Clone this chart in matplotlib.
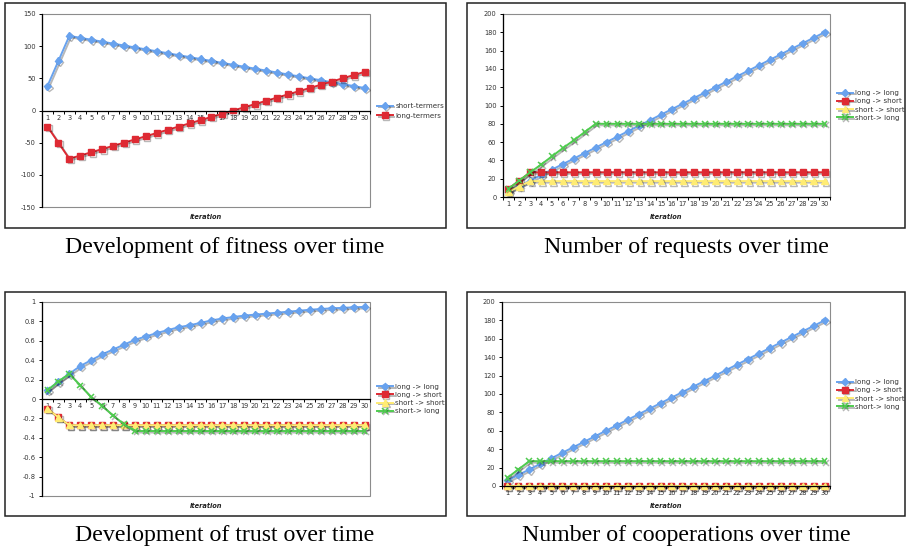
import matplotlib
matplotlib.use("Agg")
import matplotlib.pyplot as plt
import matplotlib.patheffects as pe
from matplotlib.patches import Rectangle
import numpy as np

# ---- data -------------------------------------------------------------
iterations = list(range(1, 31))

# fitness
fitness_short = [38, 77, 116, 113, 110, 107, 104, 101, 98, 95, 92, 89, 86, 83, 80,
                 77, 74, 71, 68, 65, 62, 59, 56, 53, 50, 47, 44, 41, 38, 35]
fitness_long = [-25, -50, -75, -70, -65, -60, -55, -50, -45, -40, -35, -30, -25, -20, -15,
                -10, -5, 0, 5, 10, 15, 20, 25, 30, 35, 40, 45, 50, 55, 60]

# requests
req_long_long = [6, 12, 18, 24, 30, 36, 42, 48, 54, 60, 66, 72, 78, 84, 90,
                 96, 102, 108, 114, 120, 126, 132, 138, 144, 150, 156, 162, 168, 174, 180]
req_long_short = [9, 18, 27] + [27] * 27
req_short_short = [5.8, 11.6, 17.4] + [17.4] * 27
req_short_long = [9, 18, 27, 35.5, 44.5, 53.5, 62, 71, 80] + [80] * 21

# trust
trust_long_long = [0.09, 0.18, 0.26, 0.34, 0.40, 0.46, 0.51, 0.56, 0.61, 0.645,
                   0.68, 0.71, 0.74, 0.76, 0.785, 0.81, 0.83, 0.845, 0.86, 0.87,
                   0.88, 0.89, 0.90, 0.91, 0.92, 0.928, 0.935, 0.94, 0.945, 0.95]
trust_long_short = [-0.10, -0.19, -0.27] + [-0.27] * 27
trust_short_short = [-0.10, -0.19, -0.27] + [-0.27] * 27
trust_short_long = [0.09, 0.18, 0.26, 0.14, 0.02, -0.07, -0.17, -0.26, -0.33] + [-0.33] * 21

# cooperations
coop_long_long = [6, 12, 18, 24, 30, 36, 42, 48, 54, 60, 66, 72, 78, 84, 90,
                  96, 102, 108, 114, 120, 126, 132, 138, 144, 150, 156, 162, 168, 174, 180]
coop_long_short = [0] * 30
coop_short_short = [0] * 30
coop_short_long = [9, 18, 27] + [27] * 27

pair_labels = ["long -> long", "long -> short", "short -> short", "short-> long"]
fitness_labels = ["short-termers", "long-termers"]

fitness_ticks = [150, 100, 50, 0, -50, -100, -150]
count_ticks = [0, 20, 40, 60, 80, 100, 120, 140, 160, 180, 200]
trust_ticks = [1, 0.8, 0.6, 0.4, 0.2, 0, -0.2, -0.4, -0.6, -0.8, -1]
trust_tick_labels = ["1", "0.8", "0.6", "0.4", "0.2", "0", "-0.2", "-0.4", "-0.6", "-0.8", "-1"]

captions = ["Development of fitness over time", "Number of requests over time",
            "Development of trust over time", "Number of cooperations over time"]

# ---- styling ----------------------------------------------------------
W, H = 906, 550
BLUE = "#68A2EE"
RED = "#DE2A33"
YELLOW = "#FFEC73"
GREEN = "#4FCB4F"

STYLES = [
    dict(color=BLUE, marker="D", markersize=3.6),
    dict(color=RED, marker="s", markersize=4.3),
    dict(color=YELLOW, marker="^", markersize=4.6),
    dict(color=GREEN, marker="x", markersize=4.2, markeredgewidth=1.1),
]
SHADOW = [pe.SimpleLineShadow(offset=(1.1, -1.1), shadow_color="black", alpha=0.28),
          pe.Normal()]

plt.rcParams["font.family"] = "DejaVu Sans"
TICK_FS = 4.8
LEG_FS = 5.1

fig = plt.figure(figsize=(W / 100, H / 100), dpi=100)
fig.patch.set_facecolor("white")


def px_axes(x0, y0, x1, y1):
    return fig.add_axes([x0 / W, 1 - y1 / H, (x1 - x0) / W, (y1 - y0) / H])


def fig_xy(x, y):
    return x / W, 1 - y / H


def frame(x0, y0, x1, y1):
    fig.patches.append(Rectangle((x0 / W, 1 - y1 / H), (x1 - x0) / W, (y1 - y0) / H,
                                 transform=fig.transFigure, fill=False,
                                 edgecolor="#222222", linewidth=1.1))


def setup(ax, ylim, yticks, yticklabels, zero_axis, xlabel):
    ax.set_xlim(0.5, 30.5)
    ax.set_ylim(*ylim)
    for s in ["top", "right"]:
        ax.spines[s].set_visible(False)
    ax.spines["left"].set_color("black")
    ax.spines["left"].set_linewidth(0.9)
    ax.spines["bottom"].set_color("black")
    ax.spines["bottom"].set_linewidth(0.9)
    if zero_axis:
        ax.spines["bottom"].set_position(("data", 0))
    # grey plot-area border
    ax.add_patch(Rectangle((0, 0), 1, 1, transform=ax.transAxes, fill=False,
                           edgecolor="#8c8c8c", linewidth=0.8, zorder=0.5, clip_on=False))
    ax.set_yticks(yticks)
    ax.set_yticklabels(yticklabels)
    ax.set_xticks(iterations)
    ax.set_xticklabels([str(i) for i in iterations])
    ax.set_xticks(np.arange(0.5, 31, 1.0), minor=True)
    ax.tick_params(axis="x", which="major", length=0, pad=3.0, labelsize=TICK_FS,
                   labelcolor="#333333")
    ax.tick_params(axis="x", which="minor", length=2.2, width=0.7, direction="out")
    ax.tick_params(axis="y", length=2.2, width=0.7, direction="out", pad=2.5,
                   labelsize=TICK_FS, labelcolor="#333333")
    ax.text(0.5, xlabel[1], xlabel[0], transform=ax.transAxes, ha="center", va="center",
            fontsize=4.8, fontweight="bold", fontstyle="italic", color="#222222")


def plot_series(ax, series, labels):
    for vals, st, lab in zip(series, STYLES, labels):
        ax.plot(iterations, vals, linewidth=1.4, label=lab, path_effects=SHADOW,
                clip_on=False, **st)


def legend(ax, x, y, spacing):
    lg = ax.legend(loc="center left", bbox_to_anchor=fig_xy(x, y),
                   bbox_transform=fig.transFigure, frameon=False, fontsize=LEG_FS,
                   handlelength=2.2, handletextpad=0.4, labelspacing=spacing,
                   borderpad=0, borderaxespad=0)
    for t in lg.get_texts():
        t.set_color("#333333")


# ---- frames -----------------------------------------------------------
frame(5, 3, 446, 228)
frame(467, 3, 904.5, 228)
frame(5, 292, 446, 516)
frame(467, 292, 904.5, 516)

# ---- fitness ----------------------------------------------------------
ax1 = px_axes(42, 14, 370, 207)
setup(ax1, (-150, 150), fitness_ticks, [str(t) for t in fitness_ticks], True,
      ("iteration", -0.053))
for vals, st, lab in zip([fitness_short, fitness_long], STYLES[:2], fitness_labels):
    ax1.plot(iterations, vals, linewidth=1.4, label=lab, path_effects=SHADOW,
             clip_on=False, **st)
legend(ax1, 377, 111, 0.55)

# ---- requests ---------------------------------------------------------
ax2 = px_axes(503, 14, 830, 197)
setup(ax2, (0, 200), count_ticks, [str(t) for t in count_ticks], False,
      ("Iteration", -0.11))
plot_series(ax2, [req_long_long, req_long_short, req_short_short, req_short_long], pair_labels)
legend(ax2, 837, 105.5, 0.3)

# ---- trust ------------------------------------------------------------
ax3 = px_axes(42, 302, 370, 496)
setup(ax3, (-1, 1), trust_ticks, trust_tick_labels, True, ("Iteration", -0.052))
plot_series(ax3, [trust_long_long, trust_long_short, trust_short_short, trust_short_long],
            pair_labels)
legend(ax3, 377, 399, 0.3)

# ---- cooperations -----------------------------------------------------
ax4 = px_axes(502, 302, 830, 486)
setup(ax4, (0, 200), count_ticks, [str(t) for t in count_ticks], False,
      ("Iteration", -0.11))
plot_series(ax4, [coop_long_long, coop_long_short, coop_short_short, coop_short_long],
            pair_labels)
legend(ax4, 837, 394.5, 0.3)

# ---- captions ---------------------------------------------------------
for (cx, cy), txt in zip([(225, 247), (686, 247), (225, 535), (686, 535)], captions):
    fig.text(*fig_xy(cx, cy), txt, ha="center", va="center", fontsize=17.2,
             family="Liberation Serif", color="black")

fig.savefig("out.png", dpi=100, facecolor="white")
